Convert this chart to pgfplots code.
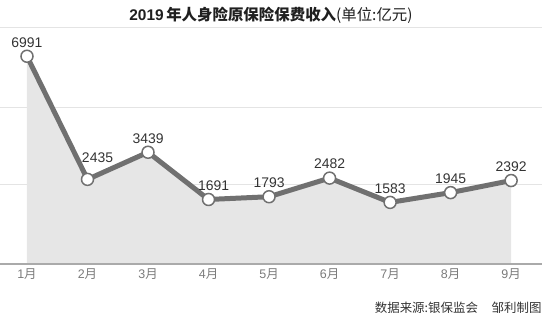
\documentclass[border=0pt]{standalone}
\usepackage{pgfplots}
\usepackage{pgfplotstable}
\pgfplotsset{compat=1.18}
\usepackage{fontspec}
\setmainfont{Liberation Sans}
\newfontfamily\cjk{Noto Sans CJK SC}
\definecolor{linec}{HTML}{707070}
\definecolor{fillc}{HTML}{E6E6E6}
\definecolor{gridc}{HTML}{E4E4E4}
\definecolor{basec}{HTML}{AAAAAA}
\definecolor{tickc}{HTML}{7A7A7A}
\definecolor{textc}{HTML}{333333}
\pgfplotstableread{
x y dx dy
1 6991 0 0
2 2435 10 8
3 3439 0 0
4 1691 5 0
5 1793 0 0
6 2482 0 0
7 1583 0 0
8 1945 0 0
9 2392 0 0
}\premium
\begin{document}
\begin{tikzpicture}
\path[use as bounding box] (0,0) rectangle (551bp,326bp);
\begin{axis}[
  at={(0,62bp)}, anchor=south west,
  scale only axis, width=542bp, height=237bp,
  xmin=0.554, xmax=9.51, ymin=-696, ymax=8073,
  axis line style={draw=none},
  clip=false,
  major tick length=0pt,
  xtick={1,2,3,4,5,6,7,8,9},
  xticklabels={1\cjk 月,2\cjk 月,3\cjk 月,4\cjk 月,5\cjk 月,6\cjk 月,7\cjk 月,8\cjk 月,9\cjk 月},
  xticklabel style={font=\fontsize{12.5}{14}\selectfont, text=tickc, yshift=-1bp},
  ytick={2230,5110,8073},
  yticklabels={},
  ymajorgrids,
  grid style={gridc, line width=0.9bp},
]
\addplot[fill=fillc, draw=none, forget plot] coordinates {
  (1,-696) (1,6991) (2,2435) (3,3439) (4,1691) (5,1793) (6,2482) (7,1583) (8,1945) (9,2392) (9,-696)
} -- cycle;
\draw[basec, line width=2.2bp] (rel axis cs:0,0) -- (rel axis cs:1,0);
\addplot[linec, line width=5bp, mark=*, mark size=6bp,
  mark options={fill=white, draw=linec, line width=1.5bp},
  nodes near coords={\pgfmathprintnumber[fixed,precision=0,set thousands separator={},assume math mode=true]{\pgfplotspointmeta}},
  point meta=y,
  visualization depends on={\thisrow{dx} \as \dx},
  visualization depends on={\thisrow{dy} \as \dy},
  every node near coord/.style={font=\fontsize{14}{16}\selectfont, text=textc, anchor=south, yshift=5bp+\dy bp, xshift=\dx bp}]
  table[x=x, y=y] {\premium};
\end{axis}
\node[text=black!88] at (271bp,311bp) {\fontsize{15.5}{18}\selectfont\bfseries 2019\,{\cjk 年人身险原保险保费收入}\mdseries{\cjk (单位:亿元)}};
\node[anchor=east, text=textc] at (545bp,18bp) {\fontsize{12.5}{15}\selectfont\cjk 数据来源:银保监会\hspace{1.1em}邹利制图};
\end{tikzpicture}
\end{document}
